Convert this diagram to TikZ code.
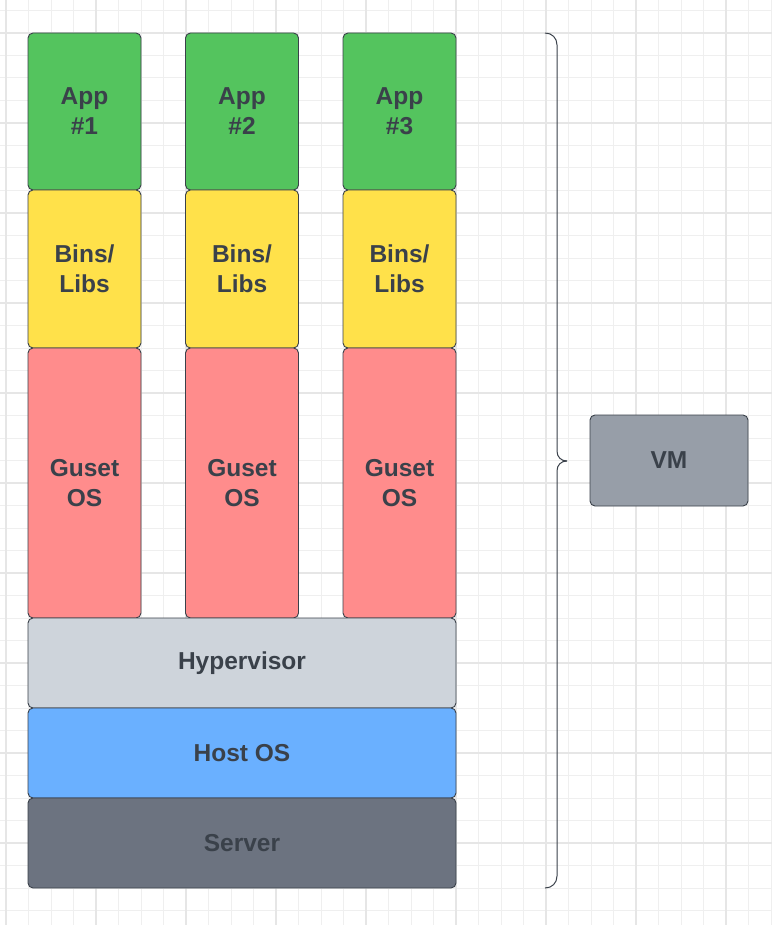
\documentclass[tikz,border=0pt]{standalone}
\usepackage{fontspec}
\setmainfont{Liberation Sans}
\definecolor{txt}{HTML}{3A414A}
\definecolor{edge}{HTML}{3A414A}
\definecolor{appgreen}{HTML}{54C45E}
\definecolor{binyellow}{HTML}{FFE14A}
\definecolor{osred}{HTML}{FF8C8C}
\definecolor{hypgray}{HTML}{CED4DB}
\definecolor{hostblue}{HTML}{6AB0FF}
\definecolor{servgray}{HTML}{6C7380}
\definecolor{vmgray}{HTML}{979EA8}
\definecolor{gridminor}{HTML}{EFEFEF}
\definecolor{gridmajor}{HTML}{E6E6E6}
\begin{document}
\begin{tikzpicture}[x=1pt,y=-1pt,
  box/.style={draw=edge, line width=0.9pt, rounded corners=5pt, inner sep=0pt,
    text=txt, font=\fontsize{24.5}{30}\selectfont\bfseries, align=center},
  colbox/.style={box, minimum width=113pt},
  widebox/.style={box, minimum width=428pt, minimum height=90pt}]
\useasboundingbox (0,0) rectangle (772,925);
\fill[white] (0,0) rectangle (772,925);
% grid
\foreach \i in {0,...,35} {
  \draw[gridminor, line width=1pt] ({6+22.5*\i-22.5},0) -- ({6+22.5*\i-22.5},925);
}
\foreach \j in {0,...,42} {
  \draw[gridminor, line width=1pt] (0,{33+22.5*\j-45}) -- (772,{33+22.5*\j-45});
}
\foreach \i in {0,...,8} {
  \draw[gridmajor, line width=1.6pt] ({6+90*\i},0) -- ({6+90*\i},925);
}
\foreach \j in {0,...,9} {
  \draw[gridmajor, line width=1.6pt] (0,{33+90*\j}) -- (772,{33+90*\j});
}
% columns
\node[colbox, fill=appgreen, minimum height=157pt] (app1) at (84.5,111.5) {App\\\#1};
\node[colbox, fill=appgreen, minimum height=157pt] (app2) at (242,111.5) {App\\\#2};
\node[colbox, fill=appgreen, minimum height=157pt] (app3) at (399.5,111.5) {App\\\#3};
\node[colbox, fill=binyellow, minimum height=158pt] (bin1) at (84.5,269) {Bins/\\Libs};
\node[colbox, fill=binyellow, minimum height=158pt] (bin2) at (242,269) {Bins/\\Libs};
\node[colbox, fill=binyellow, minimum height=158pt] (bin3) at (399.5,269) {Bins/\\Libs};
\node[colbox, fill=osred, minimum height=270pt] (os1) at (84.5,483) {Guset\\OS};
\node[colbox, fill=osred, minimum height=270pt] (os2) at (242,483) {Guset\\OS};
\node[colbox, fill=osred, minimum height=270pt] (os3) at (399.5,483) {Guset\\OS};
% layers
\node[widebox, fill=hypgray] (hyp) at (242,663) {Hypervisor};
\node[widebox, fill=hostblue] (host) at (242,753) {Host OS};
\node[widebox, fill=servgray] (serv) at (242,843) {Server};
% VM
\node[box, fill=vmgray, minimum width=158pt, minimum height=91pt] (vm) at (669,460.5) {VM};
% brace
\coordinate (btop) at (545,33);
\coordinate (bbot) at (545,888);
\coordinate (btip) at (567,461);
\draw[edge, line width=1pt]
  (btop) .. controls (552,33) and (557,38) .. (557,45) -- (557,451)
  .. controls (557,457) and (561,461) .. (btip);
\draw[edge, line width=1pt]
  (bbot) .. controls (552,888) and (557,883) .. (557,876) -- (557,471)
  .. controls (557,465) and (561,461) .. (btip);
\end{tikzpicture}
\end{document}
